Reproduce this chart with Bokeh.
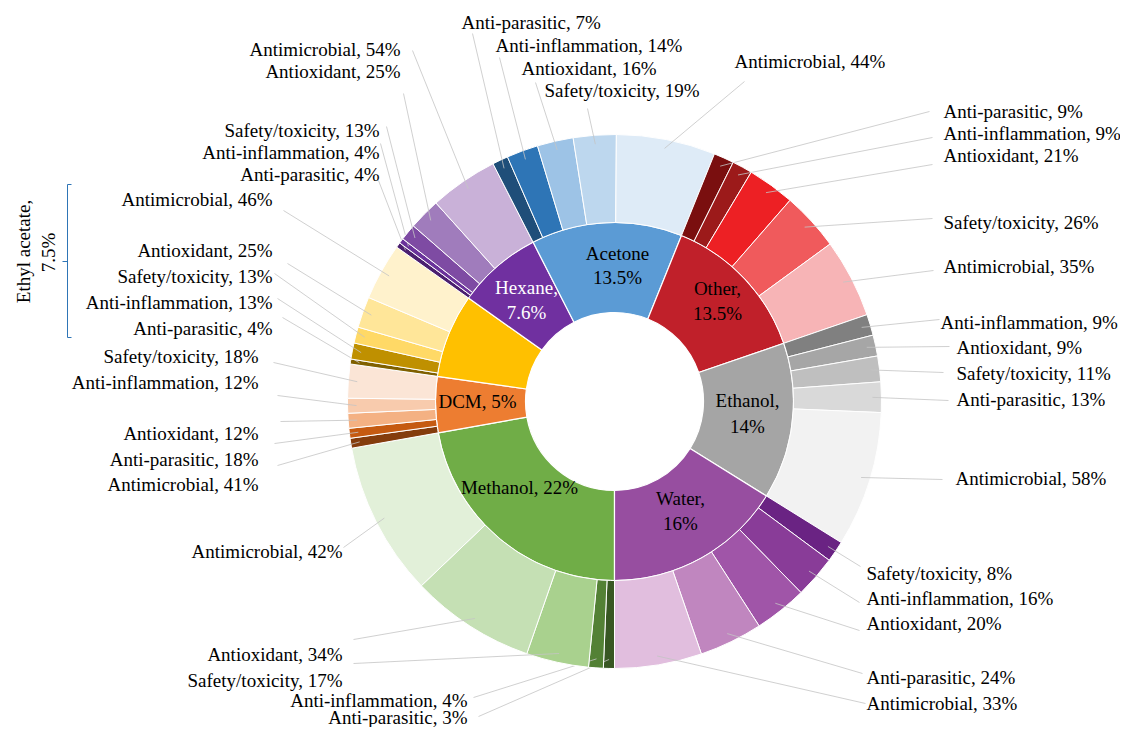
import math
from bokeh.plotting import figure
from bokeh.models import Range1d
from bokeh.embed import file_html
from bokeh.resources import INLINE
from bokeh.core.properties import value

# ---------------- DATA ----------------
categories = ["Methanol", "DCM", "Ethyl acetate", "Hexane", "Acetone", "Other", "Ethanol", "Water"]
category_share = [22, 5, 7.5, 7.6, 13.5, 13.5, 14, 16]

methanol_names = ["Anti-parasitic", "Anti-inflammation", "Safety/toxicity", "Antioxidant", "Antimicrobial"]
methanol_values = [3, 4, 17, 34, 42]
dcm_names = ["Antioxidant", "Anti-inflammation", "Anti-parasitic", "Safety/toxicity", "Antimicrobial"]
dcm_values = [12, 12, 18, 18, 41]
ethyl_names = ["Anti-parasitic", "Anti-inflammation", "Safety/toxicity", "Antioxidant", "Antimicrobial"]
ethyl_values = [4, 13, 13, 25, 46]
hexane_names = ["Anti-parasitic", "Anti-inflammation", "Safety/toxicity", "Antioxidant", "Antimicrobial"]
hexane_values = [4, 4, 13, 25, 54]
acetone_names = ["Anti-parasitic", "Anti-inflammation", "Antioxidant", "Safety/toxicity", "Antimicrobial"]
acetone_values = [7, 14, 16, 19, 44]
other_names = ["Anti-parasitic", "Anti-inflammation", "Antioxidant", "Safety/toxicity", "Antimicrobial"]
other_values = [9, 9, 21, 26, 35]
ethanol_names = ["Anti-inflammation", "Antioxidant", "Safety/toxicity", "Anti-parasitic", "Antimicrobial"]
ethanol_values = [9, 9, 11, 13, 58]
water_names = ["Safety/toxicity", "Anti-inflammation", "Antioxidant", "Anti-parasitic", "Antimicrobial"]
water_values = [8, 16, 20, 24, 33]

sub_names = [methanol_names, dcm_names, ethyl_names, hexane_names,
             acetone_names, other_names, ethanol_names, water_names]
sub_values = [methanol_values, dcm_values, ethyl_values, hexane_values,
              acetone_values, other_values, ethanol_values, water_values]

# ---------------- STYLE / LAYOUT ----------------
inner_colors = ["#70ad47", "#ed7d31", "#ffc000", "#7030a0", "#5b9bd5", "#c0202a", "#a5a5a5", "#974ea0"]
outer_colors = [
    ["#385723", "#538135", "#a9d18e", "#c5e0b4", "#e2f0d9"],
    ["#843c0c", "#c55a11", "#f4b183", "#f8cbad", "#fbe5d6"],
    ["#7f6000", "#bf9000", "#ffd966", "#ffe699", "#fff2cc"],
    ["#4b1f6f", "#6a329a", "#7e4ba3", "#a07cbc", "#c9b1d8"],
    ["#1f4e79", "#2e75b6", "#9dc3e6", "#bdd7ee", "#deebf7"],
    ["#7a0f0f", "#9c1a1a", "#ed2024", "#f05a5c", "#f7b4b6"],
    ["#808080", "#a6a6a6", "#bfbfbf", "#d9d9d9", "#f2f2f2"],
    ["#6a2383", "#893c98", "#a055a8", "#c086bf", "#e1bede"],
]

W, H = 1120, 727
CX, CY = 614, 401          # centre of the sunburst (px from top-left)
R_HOLE, R_MID, R_OUT = 89, 179, 267
R_LEADER = 258
START_CW = 180.0           # first slice starts at 6 o'clock, clockwise

FONT = value("Liberation Serif, Times New Roman, serif")
FSIZE = "19px"

# label anchors (px), same order as the sub arrays
label_pos = [
    [("right", 467, 717), ("right", 467, 700), ("right", 342, 680), ("right", 342, 654), ("right", 342, 551)],
    [("right", 258, 433), ("right", 258, 382), ("right", 258, 459), ("right", 258, 356), ("right", 258, 484)],
    [("right", 272, 328), ("right", 272, 302), ("right", 272, 276), ("right", 272, 250), ("right", 272, 199)],
    [("right", 379, 174), ("right", 379, 152), ("right", 379, 130), ("right", 400, 71), ("right", 400, 49)],
    [("left", 461, 22), ("left", 495, 45), ("left", 521, 68), ("left", 544, 90), ("left", 734, 61)],
    [("left", 943, 111), ("left", 943, 133), ("left", 943, 155), ("left", 943, 222), ("left", 943, 266)],
    [("left", 940, 322), ("left", 956, 347), ("left", 956, 373), ("left", 956, 399), ("left", 955, 478)],
    [("left", 866, 573), ("left", 866, 598), ("left", 866, 623), ("left", 866, 677), ("left", 866, 703)],
]
# leader-line outer ends (px), per segment in clockwise order
leader_end = [
    [(478, 716), (473, 697), (353, 663), (353, 639), (343, 547)],
    [(277, 465), (274, 443), (280, 421), (277, 395), (273, 362)],
    [(282, 317), (277, 298), (274, 273), (287, 263), (283, 210)],
    [(378, 180), (380, 143), (386, 126), (403, 93), (412, 50)],
    [(472, 33), (499, 57), (535, 82), (587, 108), (744, 81)],
    [(929, 111), (932, 137), (932, 164), (932, 218), (933, 270)],
    [(939, 319), (949, 346), (943, 372), (948, 400), (942, 479)],
    [(860, 566), (859, 602), (859, 630), (862, 673), (865, 703)],
]
# inner labels: (style, lines' positions)
inner_label = [
    ("one", [(519, 487)]),
    ("one", [(477, 401)]),
    ("none", []),
    ("comma", [(526, 287), (526, 312)]),
    ("plain", [(617, 253), (617, 277)]),
    ("comma", [(717, 288), (717, 313)]),
    ("comma", [(747, 400), (747, 426)]),
    ("comma", [(680, 498), (680, 523)]),
]
inner_text_color = ["black", "black", "black", "white", "black", "black", "black", "black"]


def X(sx):
    return sx - CX


def Y(sy):
    return CY - sy


def fmt(v):
    return f"{v:g}"


p = figure(width=W, height=H, output_backend="svg", toolbar_location=None,
           x_range=Range1d(-CX, W - CX), y_range=Range1d(CY - H, CY),
           min_border=0)
p.axis.visible = False
p.grid.visible = False
p.outline_line_color = None
p.background_fill_color = "white"
p.border_fill_color = "white"

total = sum(category_share)
cw = START_CW
for ci, cat in enumerate(categories):
    span = 360.0 * category_share[ci] / total
    a0, a1 = cw, cw + span
    # inner ring
    p.annular_wedge(x=0, y=0, inner_radius=R_HOLE, outer_radius=R_MID,
                    start_angle=math.radians(90 - a1), end_angle=math.radians(90 - a0),
                    fill_color=inner_colors[ci], line_color="white", line_width=1.2)
    # outer ring
    vals = sub_values[ci]
    vsum = float(sum(vals))
    s = a0
    for si, v in enumerate(vals):
        sspan = span * v / vsum
        b0, b1 = s, s + sspan
        p.annular_wedge(x=0, y=0, inner_radius=R_MID, outer_radius=R_OUT,
                        start_angle=math.radians(90 - b1), end_angle=math.radians(90 - b0),
                        fill_color=outer_colors[ci][si], line_color="white", line_width=1.0)
        mid = math.radians((b0 + b1) / 2)
        lx0, ly0 = R_LEADER * math.sin(mid), R_LEADER * math.cos(mid)
        ex, ey = leader_end[ci][si]
        p.segment(x0=lx0, y0=ly0, x1=X(ex), y1=Y(ey), line_color="#c4c4c4", line_width=0.8)
        s = b1
    # outer labels
    for si, name in enumerate(sub_names[ci]):
        al, sx, sy = label_pos[ci][si]
        p.text(x=[X(sx)], y=[Y(sy)], text=[f"{name}, {fmt(vals[si])}%"],
               text_align=al, text_baseline="middle", text_font=FONT,
               text_font_size=FSIZE, text_color="black")
    # inner labels
    style, pos = inner_label[ci]
    if style == "one":
        lines = [f"{cat}, {fmt(category_share[ci])}%"]
    elif style == "comma":
        lines = [f"{cat},", f"{fmt(category_share[ci])}%"]
    elif style == "plain":
        lines = [cat, f"{fmt(category_share[ci])}%"]
    else:
        lines = []
    for t, (sx, sy) in zip(lines, pos):
        p.text(x=[X(sx)], y=[Y(sy)], text=[t], text_align="center", text_baseline="middle",
               text_font=FONT, text_font_size=FSIZE, text_color=inner_text_color[ci])
    cw = a1

# Ethyl acetate external label with bracket
ea = categories.index("Ethyl acetate")
bracket_color = "#2e75b6"
p.segment(x0=[X(67), X(67), X(67), X(67)], y0=[Y(184), Y(184), Y(337), Y(261)],
          x1=[X(67), X(71), X(71), X(62)], y1=[Y(337), Y(184), Y(337), Y(261)],
          line_color=bracket_color, line_width=1)
p.text(x=[X(23)], y=[Y(251)], text=[f"{categories[ea]},"], angle=math.pi / 2,
       text_align="center", text_baseline="middle", text_font=FONT, text_font_size=FSIZE,
       text_color="black")
p.text(x=[X(48)], y=[Y(252)], text=[f"{fmt(category_share[ea])}%"], angle=math.pi / 2,
       text_align="center", text_baseline="middle", text_font=FONT, text_font_size=FSIZE,
       text_color="black")

open("out.html", "w").write(file_html(p, INLINE))
